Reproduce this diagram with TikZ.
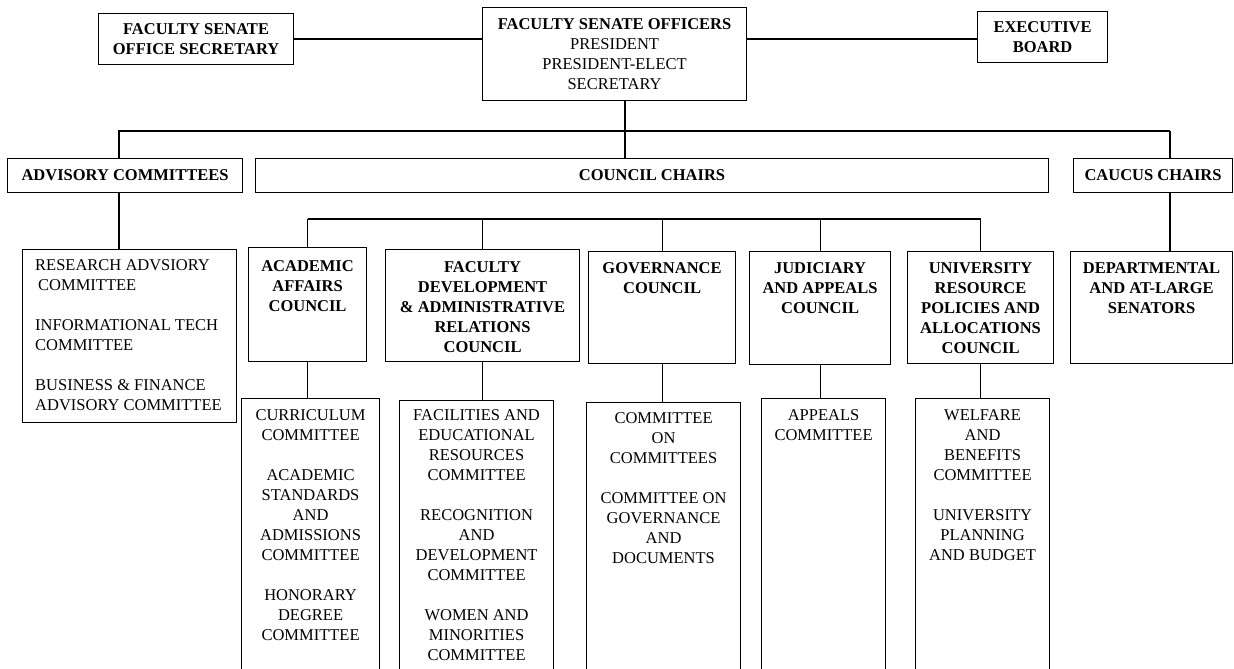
\documentclass[tikz,border=0pt]{standalone}
\usepackage{fontspec}
\setmainfont{Liberation Serif}
\usetikzlibrary{positioning}
\tikzset{box/.style={draw,line width=1.1pt,anchor=north west,inner sep=0pt,align=center,font=\fontsize{16.5}{20}\selectfont}}
\tikzset{head/.style={box,font=\fontsize{16.5}{20}\selectfont\bfseries}}
\tikzset{toptext/.style={anchor=north,align=center,inner sep=0pt,font=\fontsize{16.5}{20}\selectfont}}
\tikzset{link/.style={line width=1.1pt}}

\begin{document}
\begin{tikzpicture}[x=1pt,y=-1pt]
\useasboundingbox (0,0) rectangle (1234,669);
% \draw[help lines,step=50] (0,0) grid (1234,669);
\node (sec) [head,minimum width=195pt,minimum height=51pt] at (98,13) {FACULTY SENATE\\OFFICE SECRETARY};
\node (off) [box,minimum width=264pt,minimum height=93pt] at (482,7) {{\bfseries FACULTY SENATE OFFICERS}\\PRESIDENT\\PRESIDENT-ELECT\\SECRETARY};
\node (exe) [head,minimum width=130pt,minimum height=51pt] at (977,11) {EXECUTIVE\\BOARD};
%
\node (adv) [head,minimum width=235pt,minimum height=34pt] at (7,158) {ADVISORY COMMITTEES};
\node (cch) [head,minimum width=793pt,minimum height=34pt] at (255,158) {COUNCIL CHAIRS};
\node (cau) [head,minimum width=159pt,minimum height=34pt] at (1073,158) {CAUCUS CHAIRS};
%
\node (rac) [box,minimum width=214pt,minimum height=173pt,
  label={[toptext,anchor=north west,align=left,xshift=13pt,yshift=-10.5pt]north west:{RESEARCH ADVSIORY\\\hspace*{3pt}COMMITTEE\\[20pt]INFORMATIONAL TECH\\COMMITTEE\\[20pt]BUSINESS \& FINANCE\\ADVISORY COMMITTEE}}] at (22,249) {};
\node (aac) [box,minimum width=118pt,minimum height=114pt,
  label={[toptext,yshift=-13pt,font=\fontsize{16.5}{20}\selectfont\bfseries]north:{ACADEMIC\\AFFAIRS\\COUNCIL}}] at (248,247) {};
\node (fdr) [box,minimum width=194pt,minimum height=112pt,
  label={[toptext,yshift=-12pt,font=\fontsize{16.5}{20}\selectfont\bfseries]north:{FACULTY\\DEVELOPMENT\\\& ADMINISTRATIVE\\RELATIONS\\COUNCIL}}] at (385,249) {};
\node (gov) [box,minimum width=147pt,minimum height=112pt,
  label={[toptext,yshift=-11.5pt,font=\fontsize{16.5}{20}\selectfont\bfseries]north:{GOVERNANCE\\COUNCIL}}] at (588,251) {};
\node (jac) [box,minimum width=141pt,minimum height=113pt,
  label={[toptext,yshift=-11.5pt,font=\fontsize{16.5}{20}\selectfont\bfseries]north:{JUDICIARY\\AND APPEALS\\COUNCIL}}] at (749,251) {};
\node (urp) [box,minimum width=146pt,minimum height=112pt,
  label={[toptext,yshift=-11.5pt,font=\fontsize{16.5}{20}\selectfont\bfseries]north:{UNIVERSITY\\RESOURCE\\POLICIES AND\\ALLOCATIONS\\COUNCIL}}] at (907,251) {};
\node (dep) [box,minimum width=162pt,minimum height=112pt,
  label={[toptext,yshift=-11.5pt,font=\fontsize{16.5}{20}\selectfont\bfseries]north:{DEPARTMENTAL\\AND AT-LARGE\\SENATORS}}] at (1070,251) {};
%
\node (cur) [box,minimum width=138pt,minimum height=282pt,
  label={[toptext,yshift=-11.5pt]north:{CURRICULUM\\COMMITTEE\\[20pt]ACADEMIC\\STANDARDS\\AND\\ADMISSIONS\\COMMITTEE\\[20pt]HONORARY\\DEGREE\\COMMITTEE}}] at (241,398) {};
\node (fer) [box,minimum width=154pt,minimum height=280pt,
  label={[toptext,yshift=-9.5pt]north:{FACILITIES AND\\EDUCATIONAL\\RESOURCES\\COMMITTEE\\[20pt]RECOGNITION\\AND\\DEVELOPMENT\\COMMITTEE\\[20pt]WOMEN AND\\MINORITIES\\COMMITTEE}}] at (399,400) {};
\node (coc) [box,minimum width=154pt,minimum height=278pt,
  label={[toptext,yshift=-10.5pt]north:{COMMITTEE\\ON\\COMMITTEES\\[20pt]COMMITTEE ON\\GOVERNANCE\\AND\\DOCUMENTS}}] at (586,402) {};
\node (app) [box,minimum width=124pt,minimum height=282pt,
  label={[toptext,yshift=-11.5pt]north:{APPEALS\\COMMITTEE}}] at (761,398) {};
\node (wel) [box,minimum width=134pt,minimum height=282pt,
  label={[toptext,yshift=-11.5pt]north:{WELFARE\\AND\\BENEFITS\\COMMITTEE\\[20pt]UNIVERSITY\\PLANNING\\AND BUDGET}}] at (915,398) {};
%
\coordinate (tl) at (119,131);
\coordinate (tr) at (1170,131);
\coordinate (od) at (625,131);
\coordinate (cb) at (0,219);
\draw[link] (sec.east |- 0,39) -- (off.west |- 0,39);
\draw[link] (off.east |- 0,39) -- (exe.west |- 0,39);
\draw[link] (off.south -| od) -- (cch.north -| od);
\draw[link] (adv.north -| tl) -- (tl) -- (tr);
\draw[line width=2.2pt] (tr) -- (cau.north -| tr);
\draw[link] (adv.south -| tl) -- (rac.north -| tl);
\draw[line width=2.2pt] (cau.south -| tr) -- (dep.north -| tr);
% council bus
\draw[link] (aac.north |- cb) -- (urp.north |- cb);
\foreach \n in {aac,fdr,gov,jac,urp}
  \draw[link] (\n.north |- cb) -- (\n.north);
\foreach \a/\b in {aac/cur,fdr/fer,gov/coc,jac/app,urp/wel}
  \draw[link] (\a.south) -- (\a.south |- \b.north);
\end{tikzpicture}
\end{document}
